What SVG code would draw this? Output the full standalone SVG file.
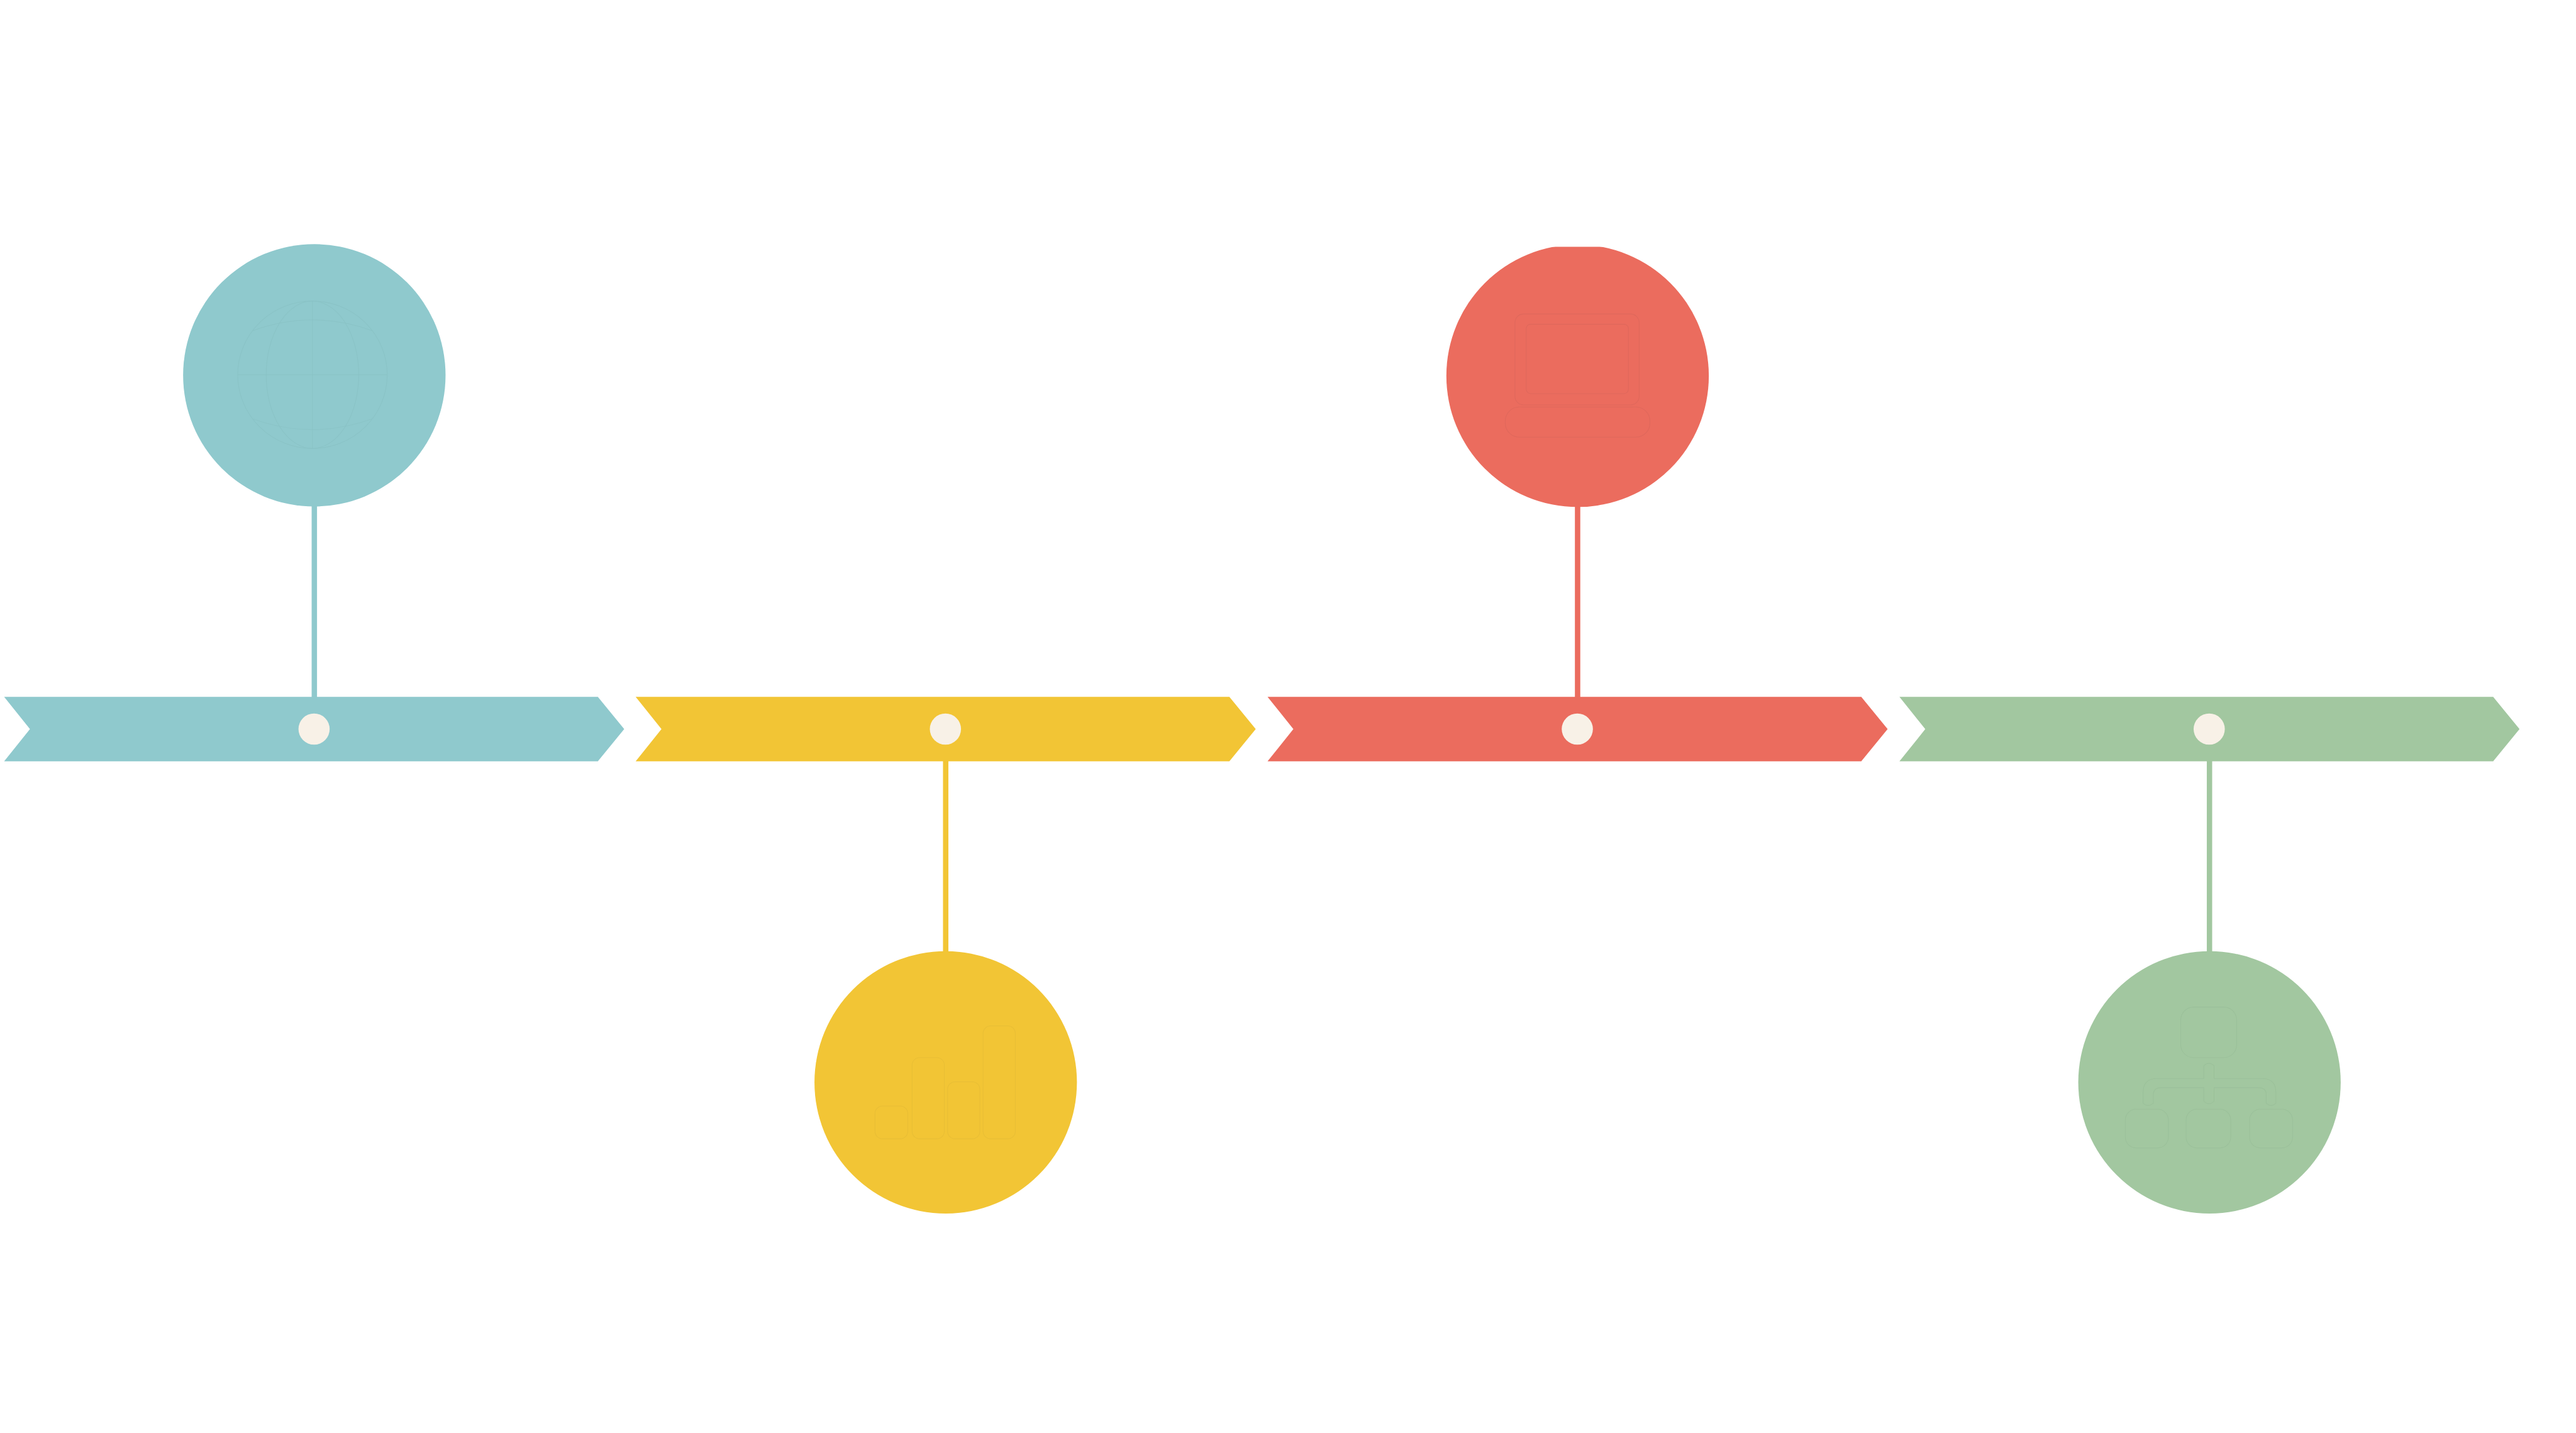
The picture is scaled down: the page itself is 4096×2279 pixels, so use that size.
<svg xmlns="http://www.w3.org/2000/svg" width="4096" height="2279" viewBox="0 0 4096 2279">
  <style>
    .teal{fill:#8FC9CD}
    .yellow{fill:#F2C535}
    .red{fill:#EB6C5E}
    .green{fill:#A2C7A0}
    .dot{fill:#F8F1E7}
    .icon{fill:none;stroke-width:1.2;stroke-linejoin:round}
    .ti{stroke:#8AC3C6}
    .yi{stroke:#E8BE36}
    .ri{stroke:#DF685C}
    .gi{stroke:#9BC09A}
  </style>
  <defs>
    <clipPath id="clipTop"><rect x="0" y="459" width="4790" height="2300"/></clipPath>
  </defs>
  <rect width="4096" height="2279" fill="#FFFFFF"/>
  <g transform="scale(0.85511)">
    <g id="connectors">
      <rect class="teal" x="579.5" y="935" width="10" height="363"/>
      <rect class="yellow" x="1753.5" y="1414" width="10" height="360"/>
      <rect class="red" x="2928.5" y="935" width="10" height="363"/>
      <rect class="green" x="4103.5" y="1414" width="10" height="360"/>
    </g>
    <g id="step1">
      <path class="teal" d="M7.7,1296 L1111.7,1296 L1160.7,1356 L1111.7,1416 L7.7,1416 L55.7,1356 Z"/>
      <circle class="dot" cx="584" cy="1356" r="29"/>
      <circle class="teal" cx="584.5" cy="698" r="244"/>
      <g class="icon ti">
        <ellipse cx="581" cy="697" rx="139" ry="137"/>
        <line x1="581" y1="560" x2="581" y2="834"/>
        <line x1="442" y1="697" x2="720" y2="697"/>
        <ellipse cx="581" cy="697" rx="86" ry="137"/>
        <path d="M470,615 Q581,575 692,615"/>
        <path d="M470,779 Q581,819 692,779"/>
      </g>
    </g>
    <g id="step2">
      <path class="yellow" d="M1182,1296 L2286,1296 L2335,1356 L2286,1416 L1182,1416 L1230,1356 Z"/>
      <circle class="dot" cx="1758" cy="1356" r="29"/>
      <circle class="yellow" cx="1758.5" cy="2013" r="244"/>
      <g class="icon yi">
        <rect x="1627" y="2057" width="61" height="61" rx="14"/>
        <rect x="1696" y="1967" width="60" height="151" rx="14"/>
        <rect x="1762" y="2012" width="60" height="106" rx="14"/>
        <rect x="1828" y="1908" width="60" height="210" rx="14"/>
      </g>
    </g>
    <g id="step3">
      <path class="red" d="M2357,1296 L3461,1296 L3510,1356 L3461,1416 L2357,1416 L2405,1356 Z"/>
      <circle class="dot" cx="2933" cy="1356" r="29"/>
      <circle class="red" cx="2933.5" cy="699" r="244" clip-path="url(#clipTop)"/>
      <g class="icon ri">
        <rect x="2817" y="584" width="231" height="169" rx="16"/>
        <rect x="2838" y="603" width="190" height="129" rx="8"/>
        <rect x="2799" y="757" width="269" height="56" rx="26"/>
      </g>
    </g>
    <g id="step4">
      <path class="green" d="M3532,1296 L4636,1296 L4685,1356 L4636,1416 L3532,1416 L3580,1356 Z"/>
      <circle class="dot" cx="4108" cy="1356" r="29"/>
      <circle class="green" cx="4108.5" cy="2013" r="244"/>
      <g class="icon gi">
        <rect x="4055" y="1873" width="104" height="94" rx="24"/>
        <path d="M3985,2052 L3985,2032 Q3985,2006 4011,2006 L4098,2006 L4098,1982 Q4107.5,1973 4117,1982 L4117,2006 L4206,2006 Q4232,2006 4232,2032 L4232,2052 Q4223,2060 4214,2052 L4214,2036 Q4214,2023 4200,2023 L4117,2023 L4117,2048 Q4107.5,2058 4098,2048 L4098,2023 L4018,2023 Q4004,2023 4004,2037 L4004,2052 Q3994,2060 3985,2052 Z"/>
        <rect x="3952" y="2063" width="80" height="72" rx="20"/>
        <rect x="4065" y="2063" width="83" height="72" rx="20"/>
        <rect x="4183" y="2063" width="80" height="72" rx="20"/>
      </g>
    </g>
  </g>
</svg>
